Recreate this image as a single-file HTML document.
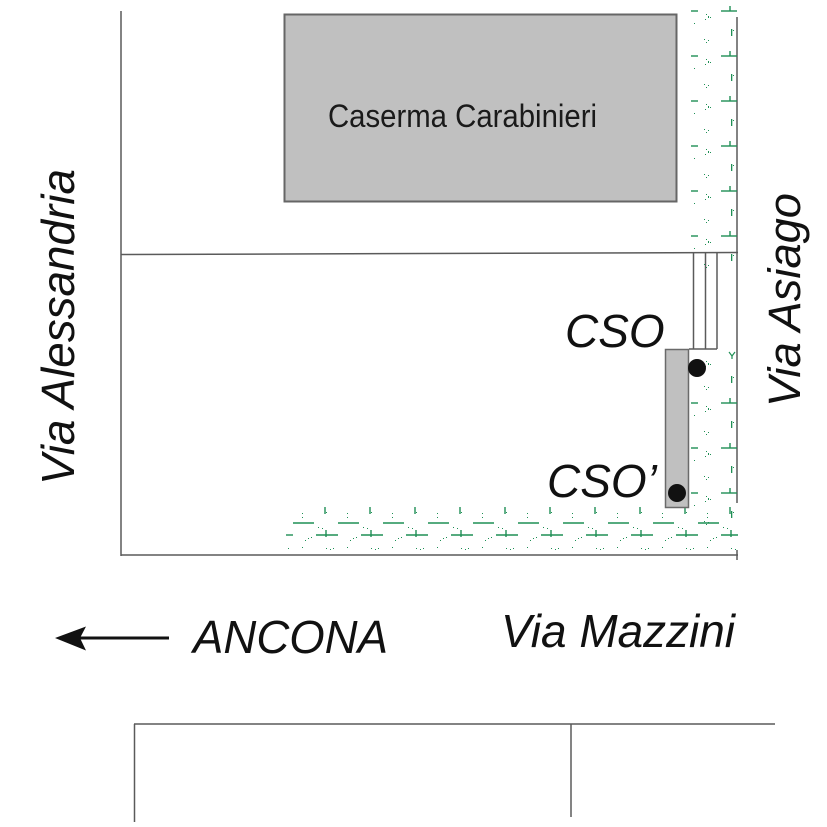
<!DOCTYPE html>
<html>
<head>
<meta charset="utf-8">
<style>
html,body{margin:0;padding:0;background:#fff;}
svg{display:block;}
text{font-family:"Liberation Sans", Arial, sans-serif;}
</style>
</head>
<body>
<svg width="827" height="827" viewBox="0 0 827 827" xmlns="http://www.w3.org/2000/svg">
<defs>
  <g id="rdash" stroke="#1f8f55" stroke-width="1.4">
    <line x1="691" y1="0" x2="698" y2="0"/>
    <line x1="721" y1="0" x2="737" y2="0"/>
    <line x1="730" y1="-5" x2="730" y2="0"/>
  </g>
  <g id="rmark" fill="#1f8f55">
    <rect x="706" y="3" width="1" height="1"/>
    <rect x="708" y="5" width="1" height="2"/>
    <rect x="705" y="8" width="1" height="1"/>
    <rect x="710" y="6" width="1" height="1"/>
    <rect x="731" y="18" width="1.3" height="7"/>
    <rect x="733" y="19" width="1" height="1"/>
    <rect x="704" y="28" width="1" height="1"/>
    <rect x="706" y="31" width="1" height="1"/>
    <rect x="708" y="29" width="1" height="1"/>
    <rect x="694" y="12" width="1" height="1"/>
  </g>
  <g id="bunit">
    <g stroke="#1f8f55" stroke-width="1.4">
      <line x1="293" y1="523" x2="314" y2="523"/>
      <line x1="316" y1="535" x2="338" y2="535"/>
      <line x1="326" y1="530" x2="326" y2="537"/>
      <line x1="325" y1="507" x2="325" y2="514"/>
    </g>
    <g fill="#1f8f55">
      <rect x="302" y="513" width="1" height="1"/>
      <rect x="302" y="517" width="1" height="1"/>
      <rect x="326" y="512" width="1" height="1"/>
      <rect x="305" y="540" width="1" height="1"/>
      <rect x="308" y="538" width="1" height="1"/>
      <rect x="311" y="537" width="1" height="1"/>
      <rect x="288" y="548" width="1" height="1"/>
      <rect x="302" y="547" width="1" height="1"/>
      <rect x="326" y="548" width="1" height="1"/>
      <rect x="330" y="549" width="1" height="1"/>
      <rect x="318" y="527" width="1" height="1"/>
      <rect x="322" y="528" width="1" height="1"/>
    </g>
  </g>
  <clipPath id="bclip"><rect x="280" y="500" width="458" height="54"/></clipPath>
</defs>

<!-- main street lines -->
<g stroke="#5a5a5a" stroke-width="1.5" fill="none">
  <line x1="121" y1="11" x2="121" y2="556"/>
  <line x1="121" y1="254.5" x2="738" y2="252.5"/>
  <line x1="121" y1="555" x2="738" y2="555"/>
  <line x1="737" y1="17" x2="737" y2="503"/>
  <line x1="737" y1="550" x2="737" y2="560"/>
  <!-- small structure -->
  <line x1="693.5" y1="253" x2="693.5" y2="349"/>
  <line x1="705.5" y1="253" x2="705.5" y2="349"/>
  <line x1="717" y1="253" x2="717" y2="349"/>
  <line x1="689" y1="349" x2="717" y2="349"/>
  <!-- bottom block -->
  <line x1="134" y1="724" x2="775" y2="724"/>
  <line x1="134.5" y1="724" x2="134.5" y2="822"/>
  <line x1="571" y1="724" x2="571" y2="817"/>
</g>

<!-- Caserma -->
<rect x="284.5" y="14.5" width="392" height="187" fill="#c0c0c0" stroke="#666" stroke-width="2"/>
<text x="328" y="127" font-size="32" fill="#1a1a1a" textLength="269" lengthAdjust="spacingAndGlyphs">Caserma Carabinieri</text>

<!-- grass right strip top -->
<use href="#rdash" transform="translate(0,11)"/>
<use href="#rdash" transform="translate(0,56)"/>
<use href="#rdash" transform="translate(0,101)"/>
<use href="#rdash" transform="translate(0,146)"/>
<use href="#rdash" transform="translate(0,191)"/>
<use href="#rdash" transform="translate(0,236)"/>
<use href="#rmark" transform="translate(0,11)"/>
<use href="#rmark" transform="translate(0,56)"/>
<use href="#rmark" transform="translate(0,101)"/>
<use href="#rmark" transform="translate(0,146)"/>
<use href="#rmark" transform="translate(0,191)"/>
<use href="#rmark" transform="translate(0,236)"/>

<!-- grass right strip lower -->
<use href="#rmark" transform="translate(0,358)"/>
<use href="#rdash" transform="translate(0,403)"/>
<use href="#rdash" transform="translate(0,448)"/>
<use href="#rdash" transform="translate(0,493)"/>
<use href="#rmark" transform="translate(0,403)"/>
<use href="#rmark" transform="translate(0,448)"/>
<use href="#rmark" transform="translate(0,493)"/>
<g stroke="#1f8f55" stroke-width="1.2">
  <line x1="729" y1="352" x2="732" y2="356"/>
  <line x1="735" y1="352" x2="732" y2="356"/>
  <line x1="732" y1="356" x2="732" y2="359"/>
</g>

<!-- grass bottom strip -->
<g clip-path="url(#bclip)">
  <use href="#bunit" transform="translate(0,0)"/>
  <use href="#bunit" transform="translate(45,0)"/>
  <use href="#bunit" transform="translate(90,0)"/>
  <use href="#bunit" transform="translate(135,0)"/>
  <use href="#bunit" transform="translate(180,0)"/>
  <use href="#bunit" transform="translate(225,0)"/>
  <use href="#bunit" transform="translate(270,0)"/>
  <use href="#bunit" transform="translate(315,0)"/>
  <use href="#bunit" transform="translate(360,0)"/>
  <use href="#bunit" transform="translate(405,0)"/>
  <line x1="286" y1="535" x2="293" y2="535" stroke="#1f8f55" stroke-width="1.4"/>
</g>

<!-- gray pipe rect -->
<rect x="665.5" y="349.5" width="23" height="158" fill="#c0c0c0" stroke="#6a6a6a" stroke-width="1.5"/>

<!-- dots -->
<circle cx="697" cy="368" r="9" fill="#111"/>
<circle cx="677" cy="493" r="9" fill="#111"/>

<!-- labels -->
<text x="565" y="347" font-size="46" font-style="italic" fill="#111">CSO</text>
<text x="547" y="497" font-size="46" font-style="italic" fill="#111">CSO’</text>

<text transform="translate(74,485) rotate(-90)" font-size="46" font-style="italic" fill="#111" textLength="316" lengthAdjust="spacingAndGlyphs">Via Alessandria</text>
<text transform="translate(800,407) rotate(-90)" font-size="45" font-style="italic" fill="#111" textLength="214" lengthAdjust="spacingAndGlyphs">Via Asiago</text>

<text x="193" y="653" font-size="46" font-style="italic" fill="#111" textLength="195" lengthAdjust="spacingAndGlyphs">ANCONA</text>
<text x="501" y="647" font-size="46" font-style="italic" fill="#111" textLength="234" lengthAdjust="spacingAndGlyphs">Via Mazzini</text>

<!-- arrow -->
<line x1="80" y1="638" x2="169" y2="638" stroke="#111" stroke-width="3"/>
<polygon points="55,638 86,626.5 80,638 86,650.5" fill="#111"/>
</svg>
</body>
</html>
